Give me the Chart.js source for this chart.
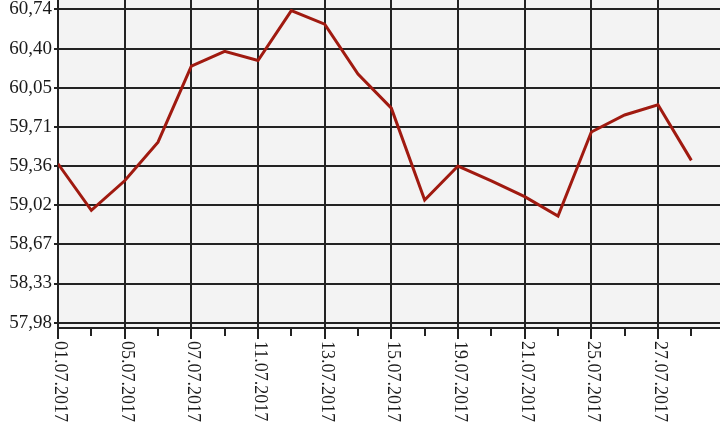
<!DOCTYPE html>
<html>
<head>
<meta charset="utf-8">
<script src="https://cdn.jsdelivr.net/npm/chart.js@4"></script>
<style>
  html, body { margin: 0; padding: 0; background: #fff; }
  #wrap { width: 720px; height: 440px; }
</style>
</head>
<body>
<div id="wrap"><canvas id="rateChart"></canvas></div>
<script>
// торговые дни, июль 2017
const dates = [
  '01.07.2017', '04.07.2017', '05.07.2017', '06.07.2017', '07.07.2017',
  '08.07.2017', '11.07.2017', '12.07.2017', '13.07.2017', '14.07.2017',
  '15.07.2017', '18.07.2017', '19.07.2017', '20.07.2017', '21.07.2017',
  '22.07.2017', '25.07.2017', '26.07.2017', '27.07.2017', '28.07.2017'
];
const rates = [
  59.38, 58.97, 59.23, 59.57, 60.24, 60.37, 60.29, 60.73, 60.61, 60.17,
  59.87, 59.06, 59.36, 59.23, 59.09, 58.92, 59.66, 59.81, 59.90, 59.41
];
const yTicks = [57.98, 58.325, 58.67, 59.015, 59.36, 59.705, 60.05, 60.395, 60.74];
const yTickLabels = ['57,98', '58,33', '58,67', '59,02', '59,36', '59,71', '60,05', '60,40', '60,74'];
const labelEvery = 2;

const GRID = '#222';
const TEXT = '#1a1a1a';
const FONT = '"Liberation Serif", "Times New Roman", serif';

// серый фон области графика
const plotBackground = {
  id: 'plotBackground',
  beforeDraw(chart) {
    const { ctx, chartArea: a } = chart;
    ctx.save();
    ctx.fillStyle = '#f3f3f3';
    ctx.fillRect(a.left, a.top, a.right - a.left, a.bottom - a.top);
    ctx.restore();
  }
};

// подписи дат сверху вниз (поворот по часовой)
const rotatedDates = {
  id: 'rotatedDates',
  afterDraw(chart) {
    const { ctx } = chart;
    const x = chart.scales.x;
    ctx.save();
    ctx.fillStyle = TEXT;
    ctx.strokeStyle = GRID;
    ctx.lineWidth = 2;
    ctx.font = '18px ' + FONT;
    ctx.textAlign = 'left';
    ctx.textBaseline = 'middle';
    dates.forEach((d, i) => {
      if (i % labelEvery) return;
      const px = Math.round(x.getPixelForValue(i));
      // длинная засечка под подписью
      ctx.beginPath();
      ctx.moveTo(px, x.top + 6);
      ctx.lineTo(px, x.top + 11);
      ctx.stroke();
      ctx.save();
      ctx.translate(px + 2, x.top + 13);
      ctx.rotate(Math.PI / 2);
      ctx.fillText(d, 0, 0);
      ctx.restore();
    });
    ctx.restore();
  }
};

new Chart(document.getElementById('rateChart'), {
  type: 'line',
  data: {
    datasets: [{
      data: rates.map((v, i) => ({ x: i, y: v })),
      borderColor: '#a01a10',
      borderWidth: 3,
      pointRadius: 0,
      tension: 0,
      fill: false
    }]
  },
  options: {
    responsive: true,
    maintainAspectRatio: false,
    animation: false,
    layout: { padding: 0 },
    plugins: {
      legend: { display: false },
      tooltip: { enabled: false }
    },
    scales: {
      x: {
        type: 'linear',
        min: 0,
        max: 19.86,
        afterBuildTicks: (scale) => {
          scale.ticks = dates.map((d, i) => ({ value: i }));
        },
        afterFit: (scale) => {
          scale.height = 112;
          scale.paddingLeft = 0;
          scale.paddingRight = 0;
        },
        ticks: { display: false },
        grid: {
          color: (ctx) => (ctx.tick && ctx.tick.value % labelEvery === 0) ? GRID : 'rgba(0,0,0,0)',
          tickColor: GRID,
          lineWidth: 2,
          tickWidth: 2,
          tickLength: 8
        },
        border: { display: true, color: GRID, width: 2 }
      },
      y: {
        type: 'linear',
        min: 57.933,
        max: 60.823,
        afterBuildTicks: (scale) => {
          scale.ticks = yTicks.map(v => ({ value: v }));
        },
        afterFit: (scale) => {
          scale.width = 58;
          scale.paddingTop = 0;
          scale.paddingBottom = 0;
        },
        ticks: {
          callback: (v, i) => yTickLabels[i],
          color: TEXT,
          font: { family: FONT, size: 19 },
          padding: 2
        },
        grid: {
          color: GRID,
          tickColor: GRID,
          lineWidth: 2,
          tickWidth: 2,
          tickLength: 4
        },
        border: { display: true, color: GRID, width: 2 }
      }
    }
  },
  plugins: [plotBackground, rotatedDates]
});
</script>
</body>
</html>
